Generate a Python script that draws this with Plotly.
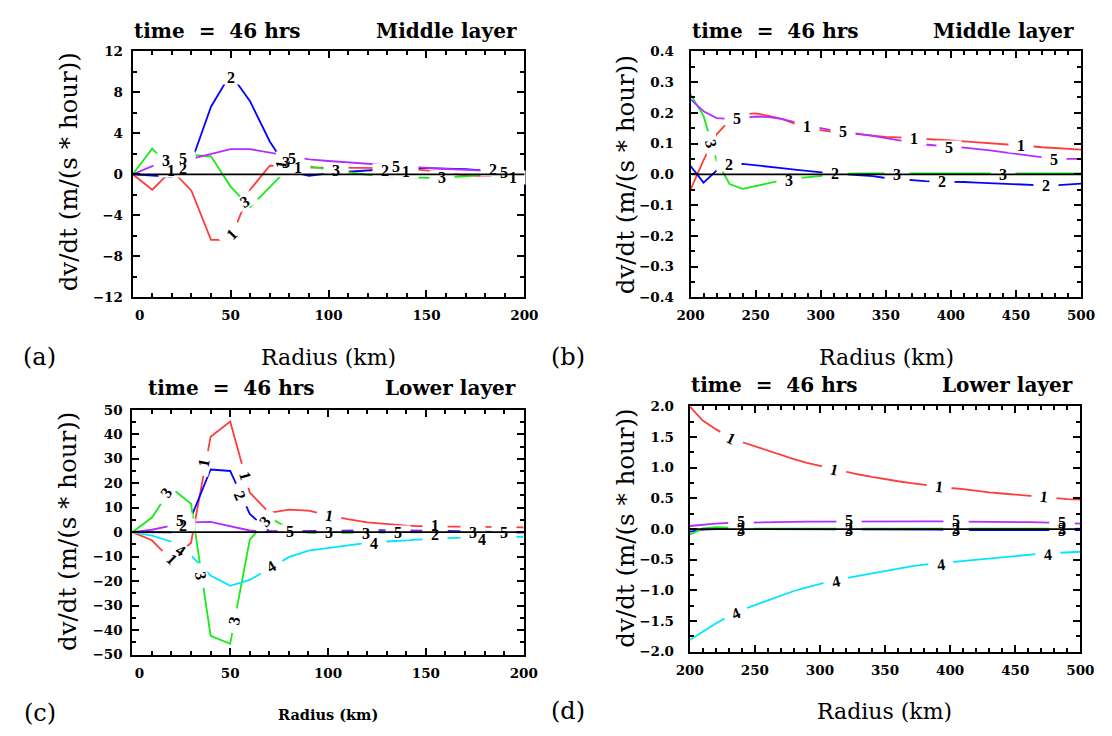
import plotly.graph_objects as go

# ---------------------------------------------------------------- data
# radial grid (km)
r_inner = [0, 10, 20, 30, 40, 50, 60, 70, 80, 90, 100,
           110, 120, 130, 140, 150, 160, 170, 180, 190, 200]
r_outer = [200, 210, 220, 230, 240, 250, 260, 270, 280, 290, 300,
           310, 320, 330, 340, 350, 360, 370, 380, 390, 400,
           410, 420, 430, 440, 450, 460, 470, 480, 490, 500]

# (a) middle layer, inner radii
mid_in_1 = [0, -1.5, 0.4, -1.6, -6.4, -6.4, -1.5, 0.85, 0.8, 0.65, 0.65,
            0.65, 0.64, 0.6, 0.52, 0.38, 0.1, -0.1, -0.18, -0.2, -0.15]
mid_in_2 = [0, -0.1, -0.25, 1.2, 6.6, 9.8, 7.1, 3.2, 0.3, -0.15, 0.1,
            0.25, 0.35, 0.5, 0.62, 0.6, 0.55, 0.5, 0.35, 0.1, 0.0]
mid_in_3 = [0, 2.5, 0.5, 1.9, 1.75, -1.2, -3.2, -1.3, 0.7, 0.8, 0.45,
            0.2, -0.05, -0.2, -0.3, -0.35, -0.3, -0.2, 0.0, 0.15, 0.2]
mid_in_5 = [0, 0.8, 1.05, 1.5, 1.95, 2.45, 2.45, 2.1, 1.75, 1.45, 1.3,
            1.15, 1.0, 0.88, 0.72, 0.62, 0.52, 0.45, 0.35, 0.25, 0.2]

# (b) middle layer, outer radii
mid_out_1 = [-0.05, 0.046, 0.13, 0.175, 0.195, 0.198, 0.19, 0.18, 0.165, 0.153, 0.144,
             0.137, 0.134, 0.13, 0.125, 0.122, 0.12, 0.118, 0.116, 0.113, 0.11,
             0.107, 0.104, 0.102, 0.1, 0.096, 0.092, 0.088, 0.085, 0.082, 0.08]
mid_out_2 = [0.027, -0.027, 0.012, 0.03, 0.034, 0.03, 0.024, 0.02, 0.015, 0.01, 0.005,
             0.002, 0.0, -0.002, -0.006, -0.012, -0.016, -0.02, -0.022, -0.024, -0.024,
             -0.025, -0.027, -0.029, -0.03, -0.032, -0.034, -0.036, -0.036, -0.033, -0.03]
mid_out_3 = [0.26, 0.19, 0.045, -0.032, -0.047, -0.038, -0.028, -0.02, -0.013, -0.009, -0.005,
             0.0, 0.002, 0.003, 0.003, 0.003, 0.003, 0.003, 0.003, 0.003, 0.003,
             0.003, 0.003, 0.003, 0.003, 0.003, 0.003, 0.003, 0.003, 0.003, 0.003]
mid_out_5 = [0.244, 0.205, 0.183, 0.18, 0.183, 0.188, 0.186, 0.18, 0.17, 0.158, 0.15,
             0.142, 0.137, 0.132, 0.125, 0.118, 0.11, 0.104, 0.097, 0.092, 0.089,
             0.087, 0.083, 0.078, 0.072, 0.067, 0.06, 0.055, 0.05, 0.05, 0.05]

# (c) lower layer, inner radii
low_in_1 = [0, -3.3, -11.5, -4.3, 39.0, 45.2, 16.2, 7.9, 9.2, 8.8, 7.0,
            5.3, 4.0, 3.2, 2.7, 2.4, 2.3, 2.3, 2.3, 2.2, 2.0]
low_in_2 = [0, 0.0, -0.1, 6.0, 25.6, 25.0, 7.5, 0.3, 0.3, 0.4, 0.5,
            0.6, 0.8, 0.8, 0.8, 0.7, 0.5, 0.3, 0.2, 0.1, 0.0]
low_in_3 = [0, 6.0, 18.0, 11.6, -42.3, -45.6, -3.0, 6.0, 1.5, -0.3, -0.4,
            -0.3, -0.3, -0.2, -0.1, 0.0, 0.1, 0.1, 0.0, 0.0, 0.0]
low_in_4 = [0, -1.4, -3.9, -9.5, -17.7, -21.9, -19.5, -15.0, -10.2, -7.5, -6.4,
            -5.3, -4.4, -3.8, -3.2, -2.8, -2.4, -2.1, -2.0, -1.9, -1.85]
low_in_5 = [0, 1.0, 2.7, 4.0, 4.2, 2.6, 0.7, 0.3, 0.3, 0.4, 0.5,
            0.6, 0.6, 0.6, 0.5, 0.4, 0.2, -0.1, -0.3, -0.3, -0.2]

# (d) lower layer, outer radii
low_out_1 = [2.0, 1.77, 1.63, 1.5, 1.42, 1.35, 1.27, 1.2, 1.14, 1.08, 1.03,
             0.98, 0.93, 0.89, 0.85, 0.81, 0.78, 0.75, 0.72, 0.69, 0.67,
             0.65, 0.62, 0.6, 0.58, 0.56, 0.55, 0.53, 0.5, 0.49, 0.48]
low_out_2 = [-0.04, -0.01, 0.0, 0.0, 0.0, -0.005, -0.005, -0.005, -0.005, -0.005, -0.01,
             -0.01, -0.01, -0.01, -0.01, -0.01, -0.01, -0.01, -0.01, -0.01, -0.015,
             -0.015, -0.015, -0.015, -0.015, -0.015, -0.015, -0.015, -0.015, -0.015, -0.015]
low_out_3 = [-0.09, 0.01, 0.03, 0.02, 0.01, 0.005, 0.005, 0.005, 0.005, 0.005, 0.005,
             0.005, 0.005, 0.005, 0.005, 0.005, 0.005, 0.005, 0.005, 0.005, 0.005,
             0.005, 0.005, 0.005, 0.005, 0.005, 0.005, 0.005, 0.005, 0.005, 0.005]
low_out_4 = [-1.81, -1.67, -1.54, -1.42, -1.32, -1.24, -1.16, -1.08, -1.01, -0.95, -0.89,
             -0.84, -0.8, -0.76, -0.72, -0.68, -0.65, -0.61, -0.58, -0.56, -0.54,
             -0.52, -0.5, -0.47, -0.45, -0.43, -0.41, -0.4, -0.39, -0.38, -0.37]
low_out_5 = [0.05, 0.075, 0.09, 0.1, 0.105, 0.11, 0.113, 0.115, 0.117, 0.12, 0.12,
             0.122, 0.123, 0.124, 0.125, 0.125, 0.125, 0.125, 0.125, 0.125, 0.125,
             0.124, 0.123, 0.122, 0.12, 0.117, 0.113, 0.11, 0.105, 0.1, 0.09]

# in-line curve labels: (term, radius, value, rotation in degrees)
mid_in_labels = [
    ("3", 17.0, 1.3, 0), ("1", 19.5, 0.35, 0), ("5", 25.8, 1.5, 0), ("2", 25.8, 0.55, 0),
    ("2", 50, 9.4, 0), ("1", 50.5, -5.9, -45), ("3", 57.5, -2.7, -30),
    ("1", 75.5, 0.9, -80), ("3", 78.5, 1.2, 0), ("5", 81.2, 1.55, 0), ("1", 84.5, 0.7, 0),
    ("3", 104, 0.38, 0), ("2", 128.8, 0.38, 0), ("5", 134.5, 0.8, 0), ("1", 139.3, 0.3, 0),
    ("3", 158, -0.32, 0), ("2", 183.8, 0.45, 0), ("5", 189.5, 0.2, 0), ("1", 194.2, -0.3, 0),
]
mid_out_labels = [
    ("3", 215.7, 0.1, 75), ("2", 229.4, 0.032, 0), ("5", 235.7, 0.18, 0),
    ("3", 275.6, -0.019, 0), ("1", 289.4, 0.154, 0), ("2", 310.7, 0.003, 0),
    ("5", 317.3, 0.138, 0), ("3", 358.8, 0.0, 0), ("1", 371.7, 0.117, 0),
    ("2", 393, -0.025, 0), ("5", 398.7, 0.087, 0), ("3", 440.4, 0.0, 0),
    ("1", 453.6, 0.093, 0), ("2", 473.3, -0.037, 0), ("5", 479, 0.048, 0),
]
low_in_labels = [
    ("3", 17.3, 16.3, -56), ("1", 20.5, -11, 45), ("4", 25, -7.3, 35),
    ("2", 26.0, 2.6, 0), ("5", 24.4, 4.6, 0),
    ("1", 36.7, 28.3, -78), ("3", 35, -17.7, 80), ("2", 55, 15, 65),
    ("1", 57.6, 23, 74), ("3", 51.7, -36.3, -79), ("3", 67.7, 4.3, -48),
    ("4", 70.9, -13.9, -31), ("5", 80.6, 0.3, 0), ("1", 100.5, 6.7, 10),
    ("3", 100.6, 0, 0), ("3", 119.3, -0.5, 0), ("4", 123.6, -4.6, 0),
    ("5", 136, 0, 0), ("1", 154.5, 2.8, 0), ("2", 154.5, -0.8, 0),
    ("3", 174, 0, 0), ("4", 178.6, -2.9, 0), ("5", 190, 0, 0),
]
low_out_labels = [
    ("1", 231.8, 1.48, 26), ("1", 310.7, 0.97, 13), ("1", 391.8, 0.69, 7), ("1", 472.4, 0.53, 7),
    ("4", 235.3, -1.38, -23), ("4", 312.6, -0.86, -12), ("4", 393.3, -0.58, -7), ("4", 475.3, -0.42, -4),
    ("5", 239.3, 0.12, 0), ("5", 322.2, 0.135, 0), ("5", 404.3, 0.135, 0), ("5", 485.8, 0.115, 0),
    ("2", 239.3, 0.005, 0), ("3", 239.3, -0.03, 0), ("2", 322.2, 0.005, 0), ("3", 322.2, -0.03, 0),
    ("2", 404.3, 0.005, 0), ("3", 404.3, -0.03, 0), ("2", 485.8, 0.005, 0), ("3", 485.8, -0.03, 0),
]

# axis ticks
x_inner_ticks = [0, 50, 100, 150, 200]
x_inner_text = ["\u00a0\u00a0\u00a00", "50", "100", "150", "200"]
x_outer_ticks = [200, 250, 300, 350, 400, 450, 500]
x_outer_text = ["200", "250", "300", "350", "400", "450", "500"]
y_a_ticks = [-12, -8, -4, 0, 4, 8, 12]
y_a_text = ["\u221212", "\u22128", "\u22124", "0", "4", "8", "12"]
y_b_ticks = [-0.4, -0.3, -0.2, -0.1, 0.0, 0.1, 0.2, 0.3, 0.4]
y_b_text = ["\u22120.4", "\u22120.3", "\u22120.2", "\u22120.1", "0.0", "0.1", "0.2", "0.3", "0.4"]
y_c_ticks = [-50, -40, -30, -20, -10, 0, 10, 20, 30, 40, 50]
y_c_text = ["\u221250", "\u221240", "\u221230", "\u221220", "\u221210", "0", "10", "20", "30", "40", "50"]
y_d_ticks = [-2.0, -1.5, -1.0, -0.5, 0.0, 0.5, 1.0, 1.5, 2.0]
y_d_text = ["\u22122.0", "\u22121.5", "\u22121.0", "\u22120.5", "0.0", "0.5", "1.0", "1.5", "2.0"]

# ---------------------------------------------------------------- style
W, H = 1112, 736
COLORS = {"1": "#ff3c3c", "2": "#0505ff", "3": "#19eb19", "4": "#00e6ff", "5": "#b42dff"}
SERIF = "DejaVu Serif"
LABEL_FONT = dict(family="Liberation Serif", size=16, color="black", weight="bold")
TICK_FONT = dict(family=SERIF, size=13.5, color="black", weight="bold")
NB = "\u00a0"


def fx(p):
    return p / W


def fy(p):
    return 1 - p / H


panels = [
    dict(ax="", x_dom=(121.7, 523.6), y_dom=(44.3, 295.7), r=r_inner,
         series={"1": mid_in_1, "2": mid_in_2, "3": mid_in_3, "5": mid_in_5},
         labels=mid_in_labels, xr=[0, 200], xt=x_inner_ticks, xtt=x_inner_text,
         yr=[-12, 12], yt=y_a_ticks, ytt=y_a_text, ydm=2, ystand=5),
    dict(ax="2", x_dom=(694.0, 1094.6), y_dom=(44.3, 295.7), r=r_outer,
         series={"1": mid_out_1, "2": mid_out_2, "3": mid_out_3, "5": mid_out_5},
         labels=mid_out_labels, xr=[200, 500], xt=x_outer_ticks, xtt=x_outer_text,
         yr=[-0.4, 0.4], yt=y_b_ticks, ytt=y_b_text, ydm=0.05, ystand=12),
    dict(ax="3", x_dom=(121.4, 522.9), y_dom=(410.7, 661.0), r=r_inner,
         series={"1": low_in_1, "2": low_in_2, "3": low_in_3, "4": low_in_4, "5": low_in_5},
         labels=low_in_labels, xr=[0, 200], xt=x_inner_ticks, xtt=x_inner_text,
         yr=[-50, 50], yt=y_c_ticks, ytt=y_c_text, ydm=5, ystand=5),
    dict(ax="4", x_dom=(693.2, 1093.9), y_dom=(407.3, 658.0), r=r_outer,
         series={"1": low_out_1, "2": low_out_2, "3": low_out_3, "4": low_out_4, "5": low_out_5},
         labels=low_out_labels, xr=[200, 500], xt=x_outer_ticks, xtt=x_outer_text,
         yr=[-2, 2], yt=y_d_ticks, ytt=y_d_text, ydm=0.25, ystand=11),
]

fig = go.Figure()
patches, zero_lines, digits = [], [], []
layout_axes = {}

for p in panels:
    xref, yref = "x" + p["ax"], "y" + p["ax"]
    for term, vals in p["series"].items():
        fig.add_trace(go.Scatter(
            x=p["r"], y=vals, mode="lines", xaxis=xref, yaxis=yref,
            line=dict(color=COLORS[term], width=1.8), showlegend=False,
            hoverinfo="skip"))

    common = dict(showline=True, linecolor="black", linewidth=2, mirror="allticks",
                  ticks="inside", ticklen=7, tickwidth=1.5, tickcolor="black",
                  showgrid=False, zeroline=False, tickfont=TICK_FONT, tickmode="array")
    layout_axes["xaxis" + p["ax"]] = dict(
        common, domain=[fx(p["x_dom"][0]), fx(p["x_dom"][1])], range=p["xr"],
        tickvals=p["xt"], ticktext=p["xtt"], anchor=yref, ticklabelstandoff=5,
        minor=dict(ticks="inside", ticklen=4, tickwidth=1.5, tickcolor="black",
                   tickmode="linear", tick0=0, dtick=10, showgrid=False))
    layout_axes["yaxis" + p["ax"]] = dict(
        common, domain=[fy(p["y_dom"][1]), fy(p["y_dom"][0])], range=p["yr"],
        tickvals=p["yt"], ticktext=p["ytt"], anchor=xref, ticklabelstandoff=p["ystand"],
        minor=dict(ticks="inside", ticklen=4, tickwidth=1.5, tickcolor="black",
                   tickmode="linear", tick0=0, dtick=p["ydm"], showgrid=False))

    for term, xv, yv, ang in p["labels"]:
        # white patch that breaks the curve where its label sits
        patches.append(dict(
            x=xv, y=yv, xref=xref, yref=yref, text=NB, width=24, height=13,
            showarrow=False, bgcolor="white", borderpad=0, textangle=ang,
            xanchor="center", yanchor="middle"))
        digits.append(dict(
            x=xv, y=yv, xref=xref, yref=yref, text=term, showarrow=False,
            font=LABEL_FONT, textangle=ang, xanchor="center", yanchor="middle"))

    # zero reference line, drawn over the label patches
    zero_lines.append(dict(
        x=p["xr"][1], y=0, ax=p["xr"][0], ay=0, xref=xref, yref=yref,
        axref=xref, ayref=yref, text="", showarrow=True, arrowhead=0,
        arrowwidth=1.8, arrowcolor="black", standoff=0, startstandoff=0))

annotations = patches + zero_lines + digits


def text(t, x, y, size, anchor="center", weight="normal", angle=0, family=SERIF):
    annotations.append(dict(
        x=fx(x), y=fy(y), xref="paper", yref="paper", text=t, showarrow=False,
        xanchor=anchor, yanchor="middle", textangle=angle,
        font=dict(family=family, size=size, color="black", weight=weight)))


# panel headers
head = "time" + NB * 2 + "=" + NB * 2 + "46" + NB + "hrs"
text(head, 120.7, 23.5, 20, "left", "bold")
text("Middle layer", 518, 23.5, 20, "right", "bold")
text(head, 693, 23.5, 20, "left", "bold")
text("Middle layer", 1089, 23.5, 20, "right", "bold")
text(head, 135, 388.5, 20, "left", "bold")
text("Lower layer", 517, 388.5, 20, "right", "bold")
text(head, 692, 385.5, 20, "left", "bold")
text("Lower layer", 1088.6, 385.5, 20, "right", "bold")

# y-axis titles
for xc, yc in [(55.4, 168), (626.8, 171), (55, 535), (627, 532)]:
    text("dv/dt (m/(s * hour))", xc, yc, 24.5, angle=-90)

# x-axis titles
text("Radius (km)", 322.5, 357, 22)
text("Radius (km)", 894.6, 357.5, 22)
text("Radius (km)", 322, 722, 14.5, weight="bold")
text("Radius (km)", 893, 719, 22)

# panel tags
text("(a)", 26.2, 357, 24)
text("(b)", 567.9, 357, 24)
text("(c)", 26.8, 721, 24)
text("(d)", 567.9, 719, 24)

fig.update_layout(
    width=W, height=H, margin=dict(l=0, r=0, t=0, b=0),
    paper_bgcolor="white", plot_bgcolor="white",
    annotations=annotations, **layout_axes)

fig.write_html("out.html")
